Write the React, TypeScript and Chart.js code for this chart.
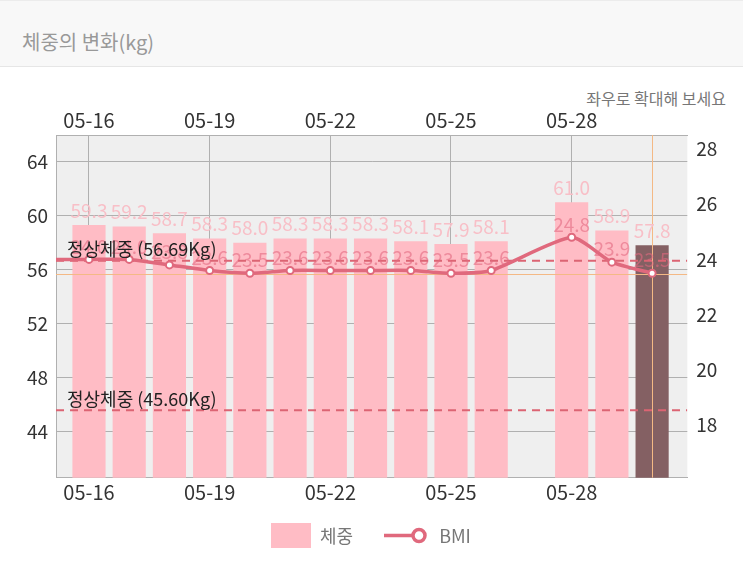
import React, { useEffect, useRef } from "react";
import { Chart, registerables } from "chart.js";

Chart.register(...registerables);

// ---- data ----
const dates = [
  "05-15", "05-16", "05-17", "05-18", "05-19", "05-20", "05-21", "05-22",
  "05-23", "05-24", "05-25", "05-26", "05-27", "05-28", "05-29", "05-30",
];
const weights: (number | null)[] = [
  null, 59.3, 59.2, 58.7, 58.3, 58.0, 58.3, 58.3, 58.3, 58.1, 57.9, 58.1, null, 61.0, 58.9, 57.8,
];
const bmiValues: (number | null)[] = [
  24.0, 24.0, 24.0, 23.8, 23.6, 23.5, 23.6, 23.6, 23.6, 23.6, 23.5, 23.6, null, 24.8, 23.9, 23.5,
];
const weightTicks = [44, 48, 52, 56, 60, 64];
const bmiTicks = [18, 20, 22, 24, 26, 28];
const dateTickIndexes = [1, 4, 7, 10, 13];
const normalWeightLines = [56.69, 45.6];
const normalWeightLabels = ["정상체중 (56.69Kg)", "정상체중 (45.60Kg)"];
const selectedIndex = 15;

const FONT = '"Noto Sans CJK KR", "Noto Sans", sans-serif';
const PINK = "#ffbcc5";
const DARK = "#846063";
const LINE = "#e0697d";

const overlayPlugin = {
  id: "overlay",
  beforeDraw(chart: any) {
    const { ctx, chartArea: a } = chart;
    ctx.save();
    ctx.fillStyle = "#efefef";
    ctx.fillRect(a.left, a.top, a.right - a.left, a.bottom - a.top);
    ctx.restore();
  },
  afterDatasetDraw(chart: any, args: any) {
    if (args.meta.type !== "bar") return;
    const { ctx, chartArea: a, scales } = chart;
    ctx.save();
    ctx.beginPath();
    ctx.rect(a.left, a.top, a.right - a.left, a.bottom - a.top);
    ctx.clip();
    ctx.strokeStyle = "#dc6473";
    ctx.lineWidth = 2;
    ctx.setLineDash([8, 6]);
    normalWeightLines.forEach((w) => {
      const y = scales.y.getPixelForValue(w);
      ctx.beginPath();
      ctx.moveTo(a.left, y);
      ctx.lineTo(a.right, y);
      ctx.stroke();
    });
    ctx.setLineDash([]);
    ctx.strokeStyle = "#f4b985";
    ctx.lineWidth = 1;
    const sx = Math.round(scales.x.getPixelForValue(selectedIndex)) + 0.5;
    const sy = Math.round(scales.y1.getPixelForValue(bmiValues[selectedIndex] as number)) + 1.5;
    ctx.beginPath();
    ctx.moveTo(sx, a.top);
    ctx.lineTo(sx, a.bottom);
    ctx.moveTo(a.left, sy);
    ctx.lineTo(a.right, sy);
    ctx.stroke();
    ctx.restore();
  },
  afterDatasetsDraw(chart: any) {
    const { ctx, chartArea: a, scales } = chart;
    ctx.save();
    ctx.textAlign = "center";
    ctx.textBaseline = "middle";
    ctx.font = `19px ${FONT}`;
    chart.data.datasets.forEach((ds: any, di: number) => {
      const meta = chart.getDatasetMeta(di);
      meta.data.forEach((el: any, i: number) => {
        const raw = ds.data[i];
        if (!raw || raw.y === null || raw.y === undefined) return;
        if (el.x < a.left || el.x > a.right) return;
        if (meta.type === "bar") {
          ctx.fillStyle = "#f8bfc7";
          ctx.fillText(raw.y.toFixed(1), el.x, el.y - 15);
        } else {
          ctx.fillStyle = "rgba(226,105,128,0.6)";
          ctx.fillText(raw.y.toFixed(1), el.x, el.y - 13);
        }
      });
    });
    ctx.textAlign = "left";
    ctx.fillStyle = "#222";
    ctx.font = `18px ${FONT}`;
    normalWeightLines.forEach((w, i) => {
      const y = scales.y.getPixelForValue(w);
      ctx.fillText(normalWeightLabels[i], a.left + 11, y - 11);
    });
    ctx.restore();
  },
};

export default function App() {
  const canvasRef = useRef<HTMLCanvasElement | null>(null);

  useEffect(() => {
    if (!canvasRef.current) return;
    const xFont = { family: FONT, size: 20 };
    const yFont = { family: FONT, size: 19 };
    const setTicks = (values: number[]) => (scale: any) => {
      scale.ticks = values.map((v) => ({ value: v }));
    };
    const chart = new Chart(canvasRef.current, {
      type: "bar",
      data: {
        datasets: [
          {
            type: "line",
            label: "BMI",
            data: dates.map((_, i) => ({ x: i, y: bmiValues[i] })),
            xAxisID: "x",
            yAxisID: "y1",
            borderColor: LINE,
            borderWidth: 3.5,
            backgroundColor: "#ffffff",
            pointBackgroundColor: "#ffffff",
            pointBorderColor: LINE,
            pointBorderWidth: 2,
            pointRadius: 3.5,
            tension: 0.2,
            spanGaps: true,
            order: 0,
          } as any,
          {
            type: "bar",
            label: "체중",
            data: dates.map((_, i) => ({ x: i, y: weights[i] })),
            xAxisID: "x",
            yAxisID: "y",
            backgroundColor: dates.map((_, i) => (i === selectedIndex ? DARK : PINK)),
            barThickness: 32.5,
            order: 1,
          } as any,
        ],
      },
      options: {
        animation: false,
        responsive: false,
        maintainAspectRatio: false,
        layout: { padding: 0 },
        plugins: {
          legend: { display: false },
          tooltip: { enabled: false },
        },
        events: [],
        scales: {
          x: {
            type: "linear",
            position: "bottom",
            offset: false,
            min: 0.18,
            max: 15.875,
            afterBuildTicks: setTicks(dateTickIndexes),
            afterFit: (s: any) => {
              s.height = 104.2;
            },
            grid: { display: false, drawTicks: false, offset: false },
            border: { display: true, color: "#b0b0b0", width: 1 },
            ticks: {
              font: xFont,
              color: "#333",
              padding: 3,
              maxRotation: 0,
              autoSkip: false,
              callback: (v: any) => dates[v] ?? "",
            },
          },
          xTop: {
            type: "linear",
            position: "top",
            offset: false,
            min: 0.18,
            max: 15.875,
            afterBuildTicks: setTicks(dateTickIndexes),
            afterFit: (s: any) => {
              s.height = 69;
            },
            grid: { display: true, drawTicks: false, offset: false, color: "#b0b0b0", lineWidth: 1 },
            border: { display: true, color: "#b0b0b0", width: 1 },
            ticks: {
              font: xFont,
              color: "#333",
              padding: 2.3,
              maxRotation: 0,
              autoSkip: false,
              callback: (v: any) => dates[v] ?? "",
            },
          },
          y: {
            type: "linear",
            position: "left",
            min: 40.6,
            max: 66,
            afterBuildTicks: setTicks(weightTicks),
            afterFit: (s: any) => {
              s.width = 56;
            },
            grid: { display: true, drawTicks: false, color: "#b0b0b0", lineWidth: 1 },
            border: { display: true, color: "#b0b0b0", width: 1 },
            ticks: { font: yFont, color: "#333", padding: 8 },
          },
          y1: {
            type: "linear",
            position: "right",
            min: 16.1,
            max: 28.5,
            afterBuildTicks: setTicks(bmiTicks),
            afterFit: (s: any) => {
              s.width = 55.7;
            },
            grid: { display: false, drawTicks: false },
            border: { display: false },
            ticks: { font: yFont, color: "#333", padding: 9 },
          },
        },
      },
      plugins: [overlayPlugin],
    } as any);
    return () => chart.destroy();
  }, []);

  return (
    <div
      style={{
        position: "fixed",
        left: 0,
        top: 0,
        width: 743,
        height: 582,
        background: "#ffffff",
        fontFamily: FONT,
        overflow: "hidden",
      }}
    >
      <div
        style={{
          position: "absolute",
          left: 0,
          top: 0,
          width: 743,
          height: 67,
          background: "#f8f8f8",
          borderTop: "1px solid #ececec",
          borderBottom: "1px solid #e6e6e6",
          boxSizing: "border-box",
        }}
      />
      <div
        style={{
          position: "absolute",
          left: 22,
          top: 29,
          fontSize: 20,
          lineHeight: "26px",
          color: "#999",
          whiteSpace: "nowrap",
        }}
      >
        체중의 변화(kg)
      </div>
      <div
        style={{
          position: "absolute",
          right: 17,
          top: 87,
          fontSize: 16,
          lineHeight: "22px",
          color: "#777",
          whiteSpace: "nowrap",
        }}
      >
        좌우로 확대해 보세요
      </div>
      <canvas
        ref={canvasRef}
        width={743}
        height={516}
        style={{ position: "absolute", left: 0, top: 66, width: 743, height: 516 }}
      />
      <div
        style={{
          position: "absolute",
          left: 271,
          top: 523,
          height: 25,
          display: "flex",
          alignItems: "center",
          whiteSpace: "nowrap",
        }}
      >
        <div style={{ width: 40, height: 25, background: PINK }} />
        <span style={{ marginLeft: 9, fontSize: 18, color: "#777", lineHeight: "25px" }}>체중</span>
        <svg width={46} height={25} style={{ marginLeft: 30 }}>
          <line x1={1} y1={12.5} x2={36} y2={12.5} stroke={LINE} strokeWidth={3.5} />
          <circle cx={36} cy={12.5} r={6} fill="#fff" stroke={LINE} strokeWidth={3.5} />
        </svg>
        <span style={{ marginLeft: 10, fontSize: 18, color: "#777", lineHeight: "25px" }}>BMI</span>
      </div>
    </div>
  );
}
